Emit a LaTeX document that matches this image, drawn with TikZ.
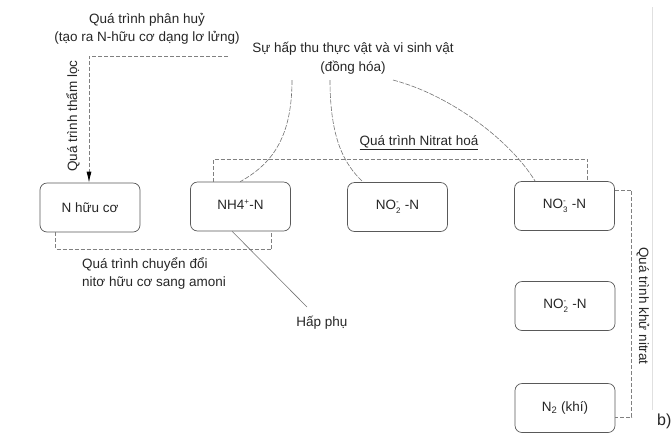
\documentclass[tikz,border=0pt]{standalone}
\usepackage{fontspec}
\setmainfont{Liberation Sans}
\usetikzlibrary{arrows.meta}
\newcommand{\ionsc}[2]{\ensuremath{^{\hbox{\fontsize{8}{8}\selectfont #1}}_{\hbox{\fontsize{8}{8}\selectfont #2}}}}
\begin{document}
\begin{tikzpicture}[x=1pt,y=-1pt,
  every node/.style={font=\fontsize{13.5}{18.5}\selectfont, text=black!85},
  box/.style={draw=black!65, line width=0.7pt, rounded corners=7pt,
    minimum width=100pt, minimum height=49pt, inner sep=0pt},
  dline/.style={draw=black!50, line width=0.8pt, dash pattern=on 4pt off 2pt},
  cline/.style={draw=black!55, line width=0.6pt, dash pattern=on 5pt off 1.5pt},
  lbl/.style={align=center, inner sep=0pt}]
\useasboundingbox (0,0) rectangle (671,432);
% faint frame line
\draw[black!12, line width=0.8pt] (652,7) -- (652,410);

% boxes
\node[box] (nhc) at (90,207.5) {N hữu cơ};
\node[box] (nh4) at (240.5,206.5) {NH4\ionsc{+}{}-N};
\node[box] (no2a) at (397.5,207) {NO\ionsc{-}{2} -N};
\node[box] (no3) at (564.5,206) {NO\ionsc{-}{3} -N};
\node[box] (no2b) at (565,306) {NO\ionsc{-}{2} -N};
\node[box] (n2) at (565,408) {N\textsubscript{2} (khí)};

% labels
\node[lbl] (dec) at (147,29) {Quá trình phân huỷ\\(tạo ra N-hữu cơ dạng lơ lửng)};
\node[lbl] (absorb) at (353,58) {Sự hấp thu thực vật và vi sinh vật\\(đồng hóa)};
\node[lbl] (nitr) at (419,143) {\underline{Quá trình Nitrat hoá}};
\node[lbl, align=left, anchor=north west] (conv) at (82,257) {Quá trình chuyển đổi\\nitơ hữu cơ sang amoni};
\node[lbl] (hp) at (322,323) {Hấp phụ};
\node[lbl, rotate=90] (filt) at (73,116) {Quá trình thẩm lọc};
\node[lbl, rotate=-90] (denit) at (643,306) {Quá trình khử nitrat};
\node[lbl, font=\fontsize{16}{18}\selectfont, anchor=west] (b) at (657,421) {b)};

% decomposition / filtration
\coordinate (decs) at (228,56);
\draw[dline, -{Latex[length=11pt,width=5pt,black,fill=black]}] (decs) -| ([xshift=-1pt]nhc.north);

% organic -> ammonium conversion
\draw[dline] ([xshift=16pt]nhc.south west) -- ++(0,17) -| ([xshift=-19pt]nh4.south east);

% nitrification
\coordinate (nl) at (0,159);
\draw[dline] ([xshift=23pt]nh4.north west) -- ([xshift=23pt]nh4.north west |- nl) -| ([xshift=-27pt]no3.north east);

% denitrification
\draw[dline] ([yshift=-9pt]no3.north east) -- ++(17,0) |- ([yshift=-9pt]n2.east);

% uptake curves
\coordinate (c1) at (292,80);
\coordinate (c2) at (330,80);
\coordinate (c3) at (393,80);
\draw[cline] (c1) .. controls (292,140) and (270,165) .. ([xshift=50pt]nh4.north west);
\draw[cline] (c2) .. controls (330,140) and (345,165) .. ([xshift=16pt]no2a.north west);
\draw[cline] (c3) .. controls (450,95) and (510,140) .. ([xshift=21pt]no3.north west);

% adsorption
\coordinate (hpe) at (307,307);
\draw[draw=black!55, line width=0.6pt] ([xshift=42pt]nh4.south west) -- (hpe);
\end{tikzpicture}
\end{document}
